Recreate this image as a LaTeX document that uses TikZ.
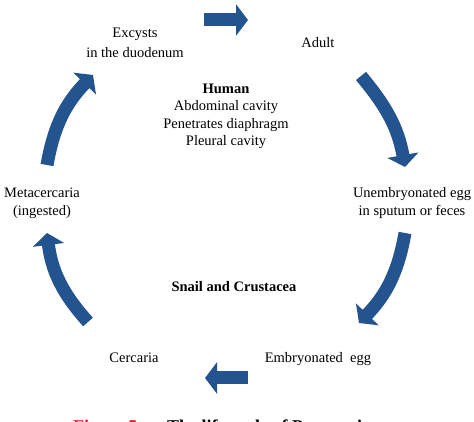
\documentclass[tikz,border=0pt]{standalone}
\usepackage{fontspec}
\setmainfont{Liberation Serif}
\usetikzlibrary{arrows.meta}

\begin{document}
\begin{tikzpicture}[x=1pt, y=1pt,
    every node/.style={font=\fontsize{14.5}{17.5}\selectfont, align=center, inner sep=0pt},
    cyclearrow/.style={draw=cycleblue, line width=13pt,
      -{Triangle[length=12pt, width=31pt]}}]
    \definecolor{cycleblue}{HTML}{24548F}
    \definecolor{capred}{HTML}{E8141B}

    \useasboundingbox (0,0) rectangle (474,422);
    \clip (0,0) rectangle (474,422);

    % =================== stages of the cycle ===================
    \node (excyst) at (135,379) {Excysts\\[3pt]in the duodenum};
    \node (adult) at (318,379) {Adult};
    \node (uegg) at (412,219) {Unembryonated egg\\in sputum or feces};
    \node (eegg) at (318,63) {Embryonated\ \ egg};
    \node (cercaria) at (134,64.5) {Cercaria};
    \node (meta) at (42,218.5) {Metacercaria\\(ingested)};

    % hosts in the middle
    \node (human) at (226,305.5) {\textbf{Human}\\Abdominal cavity\\Penetrates diaphragm\\Pleural cavity};
    \node[font=\fontsize{14.5}{17.5}\selectfont\bfseries] (snail) at (234,135) {Snail and Crustacea};

    % =================== arrows ===================
    \coordinate (ea-s) at (204,402);  \coordinate (ea-e) at (248,402);
    \coordinate (au-s) at (361,346);  \coordinate (au-e) at (405,255);
    \coordinate (ue-s) at (405,189);  \coordinate (ue-e) at (359,99);
    \coordinate (ec-s) at (248,44);   \coordinate (ec-e) at (205,44);
    \coordinate (cm-s) at (88,100);   \coordinate (cm-e) at (47,189);
    \coordinate (me-s) at (47,257);   \coordinate (me-e) at (93,347);

    \draw[cyclearrow] (ea-s) -- (ea-e);
    \draw[cyclearrow] (au-s) to[out=-50, in=100] (au-e);
    \draw[cyclearrow] (ue-s) to[out=-100, in=46] (ue-e);
    \draw[cyclearrow] (ec-s) -- (ec-e);
    \draw[cyclearrow] (cm-s) to[out=132, in=-83] (cm-e);
    \draw[cyclearrow] (me-s) to[out=80, in=-134] (me-e);

    % caption, cut by the lower edge
    \node[anchor=base west, font=\fontsize{18}{22}\selectfont\bfseries, text=capred]
      (figcap) at (73,-10.5) {Figure 5.};
    \node[anchor=base west, font=\fontsize{18}{22}\selectfont\bfseries]
      (figtitle) at (167,-10.5) {The life cycle of Paragonimus};
\end{tikzpicture}
\end{document}
